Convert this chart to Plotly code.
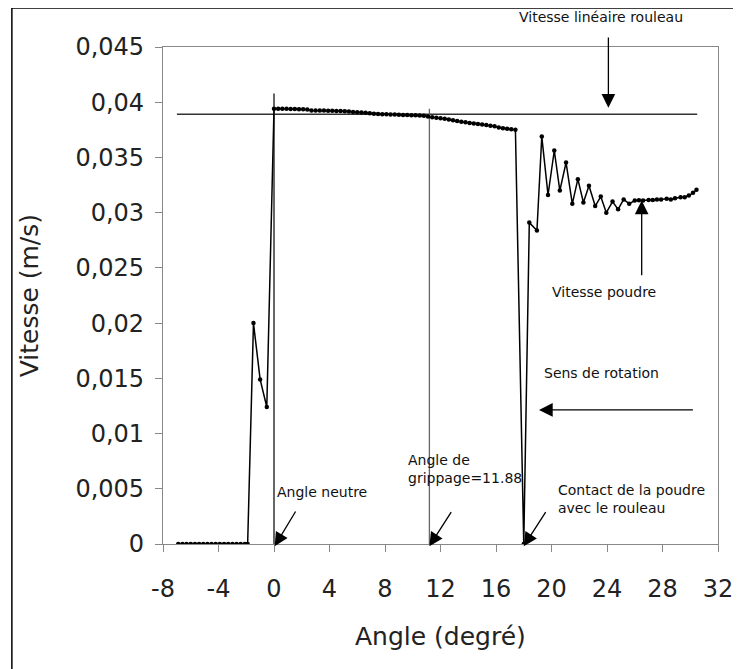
import plotly.graph_objects as go

# Angle (degrés) et vitesse de la poudre (m/s)
angle = [-6.9, -6.6, -6.3, -6.0, -5.7, -5.4, -5.1, -4.8, -4.5, -4.2, -3.9, -3.6, -3.3, -3.0, -2.7, -2.4, -2.1, -1.9,
         -1.48, -1.0, -0.52,
         0.0, 0.3, 0.6, 0.9, 1.2, 1.5, 1.8, 2.1, 2.4,
         2.7, 3.0, 3.3, 3.6, 3.9, 4.2, 4.5, 4.8, 5.1, 5.4, 5.7,
         6.0, 6.3, 6.6, 6.9, 7.2,
         7.5, 7.8, 8.1, 8.4, 8.7, 9.0, 9.3, 9.6, 9.9, 10.2, 10.5, 10.8,
         11.1, 11.4, 11.7, 12.0, 12.3, 12.6, 12.9, 13.2, 13.5, 13.8, 14.1, 14.4, 14.7, 15.0, 15.3, 15.6,
         15.9, 16.2, 16.5, 16.8, 17.1, 17.4,
         18.0,
         18.4, 18.95, 19.3, 19.75, 20.2, 20.6, 21.05, 21.5, 21.9, 22.3, 22.7, 23.15, 23.55, 23.95, 24.4,
         24.8, 25.2, 25.6, 26.0, 26.3, 26.6, 27.0, 27.3, 27.6, 27.9, 28.3, 28.6, 28.9, 29.3, 29.6, 29.9,
         30.2, 30.45]

vitesse = [0, 0, 0, 0, 0, 0, 0, 0, 0, 0, 0, 0, 0, 0, 0, 0, 0, 0,
           0.0200, 0.0149, 0.0124,
           0.0394, 0.0394, 0.0394, 0.0394, 0.03938, 0.03938, 0.03937, 0.03936, 0.03935,
           0.03925, 0.03925, 0.03924, 0.03924, 0.03922, 0.03922, 0.0392, 0.0392, 0.03918, 0.03915, 0.03912,
           0.0391, 0.03908, 0.03905, 0.039, 0.03895,
           0.03893, 0.0389, 0.0389, 0.03888, 0.03888, 0.03886, 0.03885, 0.03885, 0.03883, 0.03882, 0.0388,
           0.03878,
           0.0387, 0.03865, 0.0386, 0.03855, 0.0385, 0.03843, 0.03836, 0.0383, 0.03823, 0.03818, 0.03813,
           0.03808, 0.03803, 0.03798, 0.03793, 0.03788,
           0.03783, 0.0377, 0.03765, 0.0376, 0.03755, 0.0375,
           0.0,
           0.0291, 0.02838, 0.03689, 0.0316, 0.03563, 0.0320, 0.03454, 0.0308, 0.03303, 0.03092, 0.03243,
           0.0306, 0.03146, 0.0300, 0.0310,
           0.0303, 0.0312, 0.0308, 0.0311, 0.03112, 0.0311, 0.03115, 0.03115, 0.0312, 0.0312, 0.03125,
           0.0312, 0.0313, 0.0314, 0.0314, 0.03155,
           0.0318, 0.03207]

x_ticks = [-8, -4, 0, 4, 8, 12, 16, 20, 24, 28, 32]
x_labels = ["-8", "-4", "0", "4", "8", "12", "16", "20", "24", "28", "32"]
y_ticks = [0, 0.005, 0.01, 0.015, 0.02, 0.025, 0.03, 0.035, 0.04, 0.045]
y_labels = ["0", "0,005", "0,01", "0,015", "0,02", "0,025", "0,03", "0,035", "0,04", "0,045"]

# lignes de repère
v_rouleau = 0.0389
angle_neutre = 0
angle_grippage = 11.2

FONT = "DejaVu Sans"

fig = go.Figure()
fig.add_trace(go.Scatter(x=angle, y=vitesse, mode="lines+markers",
                         line=dict(color="black", width=1.5),
                         marker=dict(color="black", size=4.5), showlegend=False))

fig.add_shape(type="line", x0=-7.0, x1=30.5, y0=v_rouleau, y1=v_rouleau,
              line=dict(color="#333", width=1.5), layer="below")
fig.add_shape(type="line", x0=angle_neutre, x1=angle_neutre, y0=0, y1=0.0408,
              line=dict(color="#333", width=1.5), layer="below")
fig.add_shape(type="line", x0=angle_grippage, x1=angle_grippage, y0=0, y1=0.0394,
              line=dict(color="#666", width=1.3), layer="below")

# cadre extérieur (bords gauche et haut visibles)
fig.add_shape(type="line", xref="paper", yref="paper", x0=-0.2723, x1=-0.2723, y0=-0.3, y1=1.0785,
              line=dict(color="black", width=1.5))
fig.add_shape(type="line", xref="paper", yref="paper", x0=-0.2723, x1=1.1, y0=1.0785, y1=1.0785,
              line=dict(color="black", width=1.5))

txt = dict(family=FONT, size=14, color="#111")

# flèches (sans texte)
arrows = [
    (24.1, 0.0395, 24.1, 0.0460),      # vitesse linéaire rouleau
    (26.5, 0.0311, 26.5, 0.0242),      # vitesse poudre
    (19.1, 0.01214, 30.3, 0.01214),    # sens de rotation
    (0.05, -0.0002, 1.62, 0.00308),    # angle neutre
    (11.2, -0.0002, 12.84, 0.00302),   # angle de grippage
    (18.0, -0.0002, 19.65, 0.00302),   # contact
]
for x, y, ax, ay in arrows:
    fig.add_annotation(x=x, y=y, ax=ax, ay=ay, axref="x", ayref="y", text="",
                       showarrow=True, arrowhead=2, arrowsize=2.1, arrowwidth=1.3,
                       arrowcolor="black")

fig.add_annotation(xref="paper", yref="paper", x=0.79, y=1.0604, text="Vitesse linéaire rouleau",
                   showarrow=False, xanchor="center", yanchor="middle", font=txt)

labels = [
    ("Vitesse poudre", 19.9, 0.0228),
    ("Sens de rotation", 19.3, 0.0155),
    ("Angle de<br>grippage=11.88", 9.5, 0.0068),
    ("Contact de la poudre<br>avec le rouleau", 20.3, 0.0041),
    ("Angle neutre", 0.1, 0.0047),
]
for t, x, y in labels:
    fig.add_annotation(x=x, y=y, text=t, showarrow=False, xanchor="left", yanchor="middle",
                       align="left", font=txt)

# titres des axes
fig.add_annotation(xref="paper", yref="paper", x=0.5, y=-0.187, text="Angle (degré)",
                   showarrow=False, xanchor="center", yanchor="middle",
                   font=dict(family=FONT, size=25, color="#222"))
fig.add_annotation(xref="paper", yref="paper", x=-0.24, y=0.5, text="Vitesse (m/s)", textangle=-90,
                   showarrow=False, xanchor="center", yanchor="middle",
                   font=dict(family=FONT, size=25, color="#222"))

fig.update_xaxes(range=[-8, 32], tickvals=x_ticks, ticktext=x_labels, showgrid=False, zeroline=False,
                 showline=True, linecolor="#888", linewidth=1.2, mirror=True,
                 ticks="outside", ticklen=7, tickcolor="#888", ticklabelstandoff=16,
                 tickfont=dict(family=FONT, size=24, color="#222"))
fig.update_yaxes(range=[0, 0.045], tickvals=y_ticks, ticktext=y_labels, showgrid=False, zeroline=False,
                 showline=True, linecolor="#888", linewidth=1.2, mirror=True,
                 ticks="outside", ticklen=7, tickcolor="#888", ticklabelstandoff=6,
                 tickfont=dict(family=FONT, size=24, color="#222"))

fig.update_layout(width=741, height=669, margin=dict(l=155, r=31, t=39, b=133),
                  plot_bgcolor="white", paper_bgcolor="white", showlegend=False)

fig.write_html("out.html")
